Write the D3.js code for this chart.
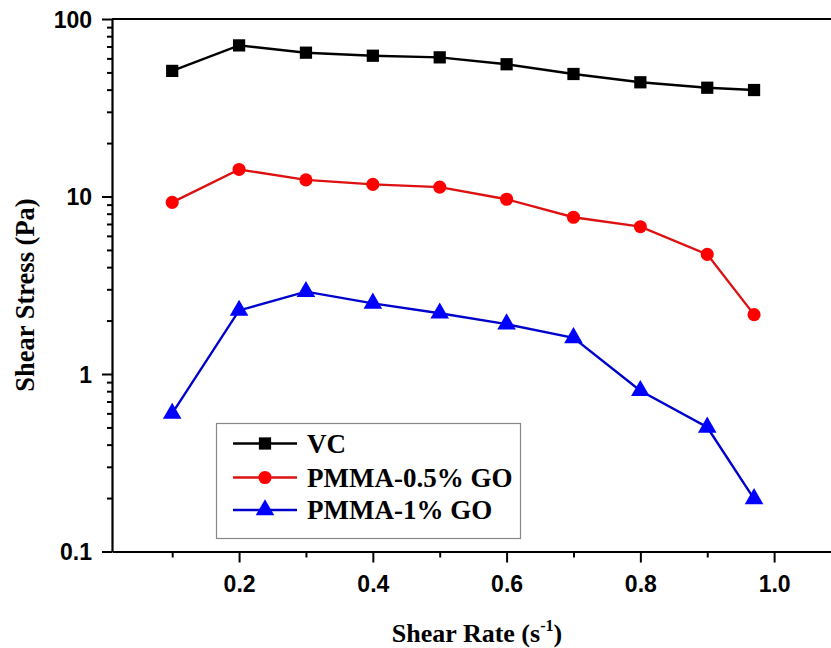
<!DOCTYPE html>
<html>
<head>
<meta charset="utf-8">
<script src="https://cdn.jsdelivr.net/npm/d3@7"></script>
<style>
  html, body { margin: 0; padding: 0; background: #fff; }
  svg { display: block; }
</style>
</head>
<body>
<svg id="chart" width="831" height="648"></svg>
<script>
// Shear rate (s^-1)
const shearRate = [0.1, 0.2, 0.3, 0.4, 0.5, 0.6, 0.7, 0.8, 0.9, 0.97];
// Shear stress (Pa) for each sample
const vcStress     = [51, 71, 64.6, 62.1, 60.8, 55.6, 49, 44, 41, 39.8];
const go05Stress   = [9.27, 14.2, 12.4, 11.7, 11.3, 9.65, 7.64, 6.76, 4.72, 2.16];
const go1Stress    = [0.6, 2.28, 2.91, 2.5, 2.2, 1.91, 1.6, 0.805, 0.501, 0.198];

const seriesNames = ["VC", "PMMA-0.5% GO", "PMMA-1% GO"];
const xMajorTicks = [0.2, 0.4, 0.6, 0.8, 1.0];
const xMinorTicks = [0.1, 0.3, 0.5, 0.7, 0.9];
const yMajorTicks = [0.1, 1, 10, 100];

const series = [
  { name: seriesNames[0], values: vcStress,   line: "#000000", fill: "#000000", shape: d3.symbolSquare },
  { name: seriesNames[1], values: go05Stress, line: "#dd1111", fill: "#ff0000", shape: d3.symbolCircle },
  { name: seriesNames[2], values: go1Stress,  line: "#0000cc", fill: "#0000ff", shape: d3.symbolTriangle }
];

const svg = d3.select("#chart");
const plotLeft = 112, plotTop = 19, plotBottom = 551.5;

const x = d3.scaleLinear().domain([0.01, 1.1]).range([plotLeft, 841]);
const y = d3.scaleLog().domain([0.1, 100]).range([plotBottom, plotTop]);

const labelFont = "'Liberation Sans', Arial, sans-serif";
const titleFont = "'Liberation Serif', 'Times New Roman', serif";

// minor y ticks (2..9 in each decade)
const yMinor = [];
for (let d = 0.1; d < 100; d *= 10) {
  for (let k = 2; k <= 9; k++) yMinor.push(+(d * k).toPrecision(3));
}

// Y axis: major ticks with labels
const yAxis = svg.append("g")
  .attr("transform", `translate(${plotLeft},0)`)
  .call(d3.axisLeft(y).tickValues(yMajorTicks).tickSize(10).tickSizeOuter(0)
    .tickPadding(10).tickFormat(d => d >= 1 ? d3.format("d")(d) : String(d)));
yAxis.select(".domain").attr("stroke", "#000").attr("stroke-width", 2.2);
yAxis.selectAll(".tick line").attr("stroke", "#000").attr("stroke-width", 2);
yAxis.selectAll(".tick text")
  .attr("font-family", labelFont).attr("font-weight", "bold").attr("font-size", 23)
  .attr("fill", "#000").attr("dy", "0.36em");

// Y axis: minor ticks
const yAxisMinor = svg.append("g")
  .attr("transform", `translate(${plotLeft},0)`)
  .call(d3.axisLeft(y).tickValues(yMinor).tickSize(5).tickSizeOuter(0).tickFormat(""));
yAxisMinor.select(".domain").remove();
yAxisMinor.selectAll(".tick line").attr("stroke", "#000").attr("stroke-width", 2);

// X axis: major ticks with labels
const xAxis = svg.append("g")
  .attr("transform", `translate(0,${plotBottom})`)
  .call(d3.axisBottom(x).tickValues(xMajorTicks).tickSize(11).tickSizeOuter(0)
    .tickPadding(9).tickFormat(d3.format(".1f")));
xAxis.select(".domain").attr("stroke", "#000").attr("stroke-width", 2.2);
xAxis.selectAll(".tick line").attr("stroke", "#000").attr("stroke-width", 2);
xAxis.selectAll(".tick text")
  .attr("font-family", labelFont).attr("font-weight", "bold").attr("font-size", 23)
  .attr("fill", "#000").attr("dy", "0.9em");

// X axis: minor ticks
const xAxisMinor = svg.append("g")
  .attr("transform", `translate(0,${plotBottom})`)
  .call(d3.axisBottom(x).tickValues(xMinorTicks).tickSize(6).tickSizeOuter(0).tickFormat(""));
xAxisMinor.select(".domain").remove();
xAxisMinor.selectAll(".tick line").attr("stroke", "#000").attr("stroke-width", 2);

// top frame line
svg.append("line")
  .attr("x1", x.range()[0]).attr("x2", x.range()[1])
  .attr("y1", plotTop).attr("y2", plotTop)
  .attr("stroke", "#000").attr("stroke-width", 2.2);

// axis titles
const xTitle = svg.append("text")
  .attr("x", 477).attr("y", 642)
  .attr("text-anchor", "middle")
  .attr("font-family", titleFont).attr("font-weight", "bold").attr("font-size", 26)
  .attr("fill", "#000");
xTitle.append("tspan").text("Shear Rate (s");
xTitle.append("tspan").attr("font-size", 16).attr("dy", -11).text("-1");
xTitle.append("tspan").attr("dy", 11).text(")");

svg.append("text")
  .attr("transform", "translate(34,295) rotate(-90)")
  .attr("text-anchor", "middle")
  .attr("font-family", titleFont).attr("font-weight", "bold").attr("font-size", 26.5)
  .attr("fill", "#000")
  .text("Shear Stress (Pa)");

// series lines and markers
const line = d3.line().x((d, i) => x(shearRate[i])).y(d => y(d));
const sizes = [150, 135, 150];

series.forEach((s, si) => {
  svg.append("path")
    .datum(s.values)
    .attr("d", line)
    .attr("fill", "none")
    .attr("stroke", s.line)
    .attr("stroke-width", 2.4);
  svg.append("g").selectAll("path")
    .data(s.values)
    .join("path")
    .attr("transform", (d, i) => `translate(${x(shearRate[i])},${y(d)})`)
    .attr("d", d3.symbol().type(s.shape).size(sizes[si]))
    .attr("fill", s.fill);
});

// legend
const legend = svg.append("g");
legend.append("rect")
  .attr("x", 216.5).attr("y", 423.5).attr("width", 304).attr("height", 115)
  .attr("fill", "#fff").attr("stroke", "#888").attr("stroke-width", 1.2);
const rowY = [443.5, 477.5, 510];
series.forEach((s, i) => {
  const g = legend.append("g").attr("transform", `translate(0,${rowY[i]})`);
  g.append("line").attr("x1", 233).attr("x2", 297).attr("y1", 0).attr("y2", 0)
    .attr("stroke", s.line).attr("stroke-width", 2.4);
  g.append("path").attr("transform", "translate(265,0)")
    .attr("d", d3.symbol().type(s.shape).size(sizes[i]))
    .attr("fill", s.fill);
  g.append("text").attr("x", 307).attr("y", 9)
    .attr("font-family", titleFont).attr("font-weight", "bold").attr("font-size", 27)
    .attr("fill", "#000").text(s.name);
});
</script>
</body>
</html>
